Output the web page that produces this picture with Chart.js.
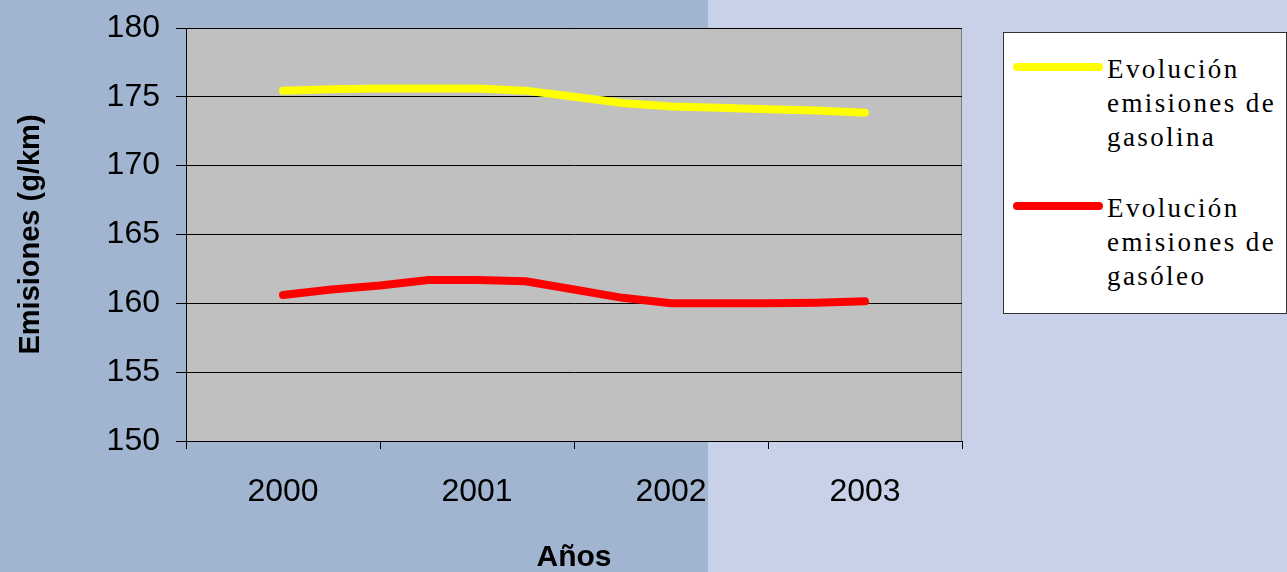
<!DOCTYPE html>
<html>
<head>
<meta charset="utf-8">
<script src="https://cdn.jsdelivr.net/npm/chart.js@4/dist/chart.umd.min.js"></script>
<style>
  html, body { margin: 0; padding: 0; }
  body { width: 1287px; height: 572px; overflow: hidden; position: relative; }
  #wrap { position: absolute; left: 0; top: 0; width: 1287px; height: 572px; }
  #legend {
    position: absolute; left: 1003px; top: 32px; width: 282px; height: 280px;
    background: #ffffff; border: 1px solid #333333;
  }
  .item { position: absolute; left: 0; width: 282px; }
  .swatch { position: absolute; left: 9px; width: 90px; height: 8px; border-radius: 4px; }
  .txt {
    position: absolute; left: 103px; width: 182px;
    font-family: "Liberation Serif", "Times New Roman", serif;
    font-size: 27px; line-height: 34px; letter-spacing: 2.4px; color: #000;
  }
</style>
</head>
<body>
<div id="wrap"><canvas id="chart" width="1287" height="572"></canvas></div>
<div id="legend"></div>
<script>
// x positions (years, quarterly points) and values
const years = [2000, 2001, 2002, 2003];
const xPoints = [2000, 2000.25, 2000.5, 2000.75, 2001, 2001.25, 2001.5, 2001.75, 2002, 2002.25, 2002.5, 2002.75, 2003];
const gasolina = [175.45, 175.55, 175.6, 175.6, 175.6, 175.45, 175.0, 174.55, 174.3, 174.2, 174.1, 174.0, 173.85];
const gasoleo = [160.6, 161.0, 161.3, 161.7, 161.7, 161.6, 161.0, 160.4, 160.0, 160.0, 160.0, 160.05, 160.15];
const seriesNames = ["Evolución emisiones de gasolina", "Evolución emisiones de gasóleo"];
const seriesColors = ["#ffff00", "#ff0000"];
const yTicks = [150, 155, 160, 165, 170, 175, 180];

function toPoints(vals) {
    return xPoints.map((x, i) => ({ x: x, y: vals[i] }));
}

// backgrounds: two-tone page and grey plot area
const bgPlugin = {
    id: "bg",
    beforeDraw(chart) {
        const ctx = chart.ctx;
        const a = chart.chartArea;
        ctx.save();
        ctx.fillStyle = "#c8d1e8";
        ctx.fillRect(0, 0, chart.width, chart.height);
        ctx.fillStyle = "#a1b5d1";
        ctx.fillRect(0, 0, 708, chart.height);
        ctx.fillStyle = "#c0c0c0";
        ctx.fillRect(a.left, a.top, a.right - a.left, a.bottom - a.top);
        ctx.strokeStyle = "#808080";
        ctx.lineWidth = 1;
        ctx.beginPath();
        ctx.moveTo(a.left, a.top + 0.5);
        ctx.lineTo(a.right - 0.5, a.top + 0.5);
        ctx.lineTo(a.right - 0.5, a.bottom);
        ctx.stroke();
        ctx.restore();
    }
};

const ctx = document.getElementById("chart").getContext("2d");
const chart = new Chart(ctx, {
    type: "line",
    data: {
        datasets: [
            { label: seriesNames[0], data: toPoints(gasolina), borderColor: seriesColors[0] },
            { label: seriesNames[1], data: toPoints(gasoleo), borderColor: seriesColors[1] }
        ].map(d => Object.assign(d, {
            borderWidth: 8,
            borderCapStyle: "round",
            borderJoinStyle: "round",
            pointRadius: 0,
            tension: 0,
            fill: false
        }))
    },
    options: {
        responsive: false,
        animation: false,
        layout: { padding: { left: 8, right: 325, top: 28, bottom: 0 } },
        plugins: {
            legend: { display: false },
            tooltip: { enabled: false }
        },
        scales: {
            x: {
                type: "linear",
                min: years[0] - 0.5,
                max: years[years.length - 1] + 0.5,
                afterBuildTicks(s) {
                    const t = [];
                    years.forEach(y => { t.push({ value: y - 0.5 }); t.push({ value: y }); });
                    t.push({ value: years[years.length - 1] + 0.5 });
                    s.ticks = t;
                },
                afterFit(s) { s.height = 131; },
                ticks: {
                    color: "#000",
                    font: { family: "'Liberation Sans', Arial", size: 32 },
                    padding: 24,
                    maxRotation: 0,
                    autoSkip: false,
                    callback: v => (years.includes(v) ? String(v) : "")
                },
                grid: {
                    drawOnChartArea: false,
                    tickLength: 8,
                    color: c => (c.tick && years.includes(c.tick.value) ? "rgba(0,0,0,0)" : "#000")
                },
                border: { color: "#000", width: 1 },
                title: {
                    display: true,
                    text: "Años",
                    color: "#000",
                    font: { family: "'Liberation Sans', Arial", size: 30, weight: "bold" },
                    padding: { top: 0, bottom: -4 }
                }
            },
            y: {
                min: yTicks[0],
                max: yTicks[yTicks.length - 1],
                afterBuildTicks(s) { s.ticks = yTicks.map(v => ({ value: v })); },
                afterFit(s) {
                    s.width = 178;
                    s.paddingTop = 0;
                    s.paddingBottom = 0;
                },
                ticks: {
                    color: "#000",
                    font: { family: "'Liberation Sans', Arial", size: 32 },
                    padding: 16
                },
                grid: { color: "#000", tickLength: 10, lineWidth: 1 },
                border: { color: "#000", width: 1 },
                title: {
                    display: true,
                    text: "Emisiones (g/km)",
                    color: "#000",
                    font: { family: "'Liberation Sans', Arial", size: 29, weight: "bold" },
                    padding: { top: 6, bottom: 0 }
                }
            }
        }
    },
    plugins: [bgPlugin]
});

// legend box built from the datasets
const legendDiv = document.getElementById("legend");
const itemTops = [19, 158];
chart.data.datasets.forEach((ds, i) => {
    const item = document.createElement("div");
    item.className = "item";
    item.style.top = itemTops[i] + "px";
    const sw = document.createElement("div");
    sw.className = "swatch";
    sw.style.background = ds.borderColor;
    sw.style.top = "11px";
    const tx = document.createElement("div");
    tx.className = "txt";
    tx.textContent = ds.label;
    item.appendChild(sw);
    item.appendChild(tx);
    legendDiv.appendChild(item);
});
</script>
</body>
</html>
